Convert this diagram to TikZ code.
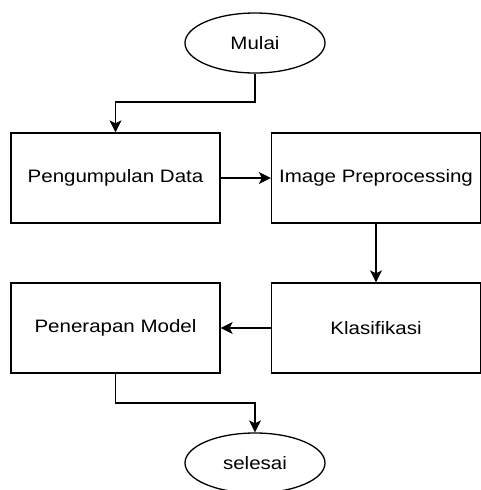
\documentclass[tikz,border=0pt]{standalone}
\usepackage{fontspec}
\setmainfont{Liberation Sans}
\usetikzlibrary{arrows.meta,shapes.geometric}
\newcommand{\wide}[1]{\scalebox{1.14}[1]{#1}}
\begin{document}
\begin{tikzpicture}[x=1pt,y=-1pt,line width=1.3pt,
    >={Stealth[length=12pt,width=12pt,inset=3pt]}]
  \tikzstyle{terminal}=[draw,ellipse,minimum width=140pt,minimum height=60pt,inner sep=0pt,font=\fontsize{18}{20}\selectfont]
  \tikzstyle{proses}=[draw,rectangle,minimum width=209pt,minimum height=90pt,inner sep=0pt,font=\fontsize{18}{20}\selectfont]
  \useasboundingbox (0,0) rectangle (481,490);
  \node[terminal] (mulai)   at (255,43)    {\wide{Mulai}};
  \node[proses]   (data)    at (115.5,178) {\wide{Pengumpulan Data}};
  \node[proses]   (prepro)  at (376,178)   {\wide{Image Preprocessing}};
  \node[proses]   (klas)    at (376,328)   {\wide{Klasifikasi}};
  \node[proses]   (model)   at (115.5,328) {\wide{Penerapan Model}};
  \node[terminal] (selesai) at (255,463)   {\wide{selesai}};
  \coordinate (b1) at (255,102);
  \coordinate (b2) at (115.5,403);
  \draw[->] (mulai.south) -- (b1) -| (data.north);
  \draw[->] (data.east) -- (prepro.west);
  \draw[->] (prepro.south) -- (klas.north);
  \draw[->] (klas.west) -- (model.east);
  \draw[->] (model.south) -- (b2) -| (selesai.north);
\end{tikzpicture}
\end{document}
